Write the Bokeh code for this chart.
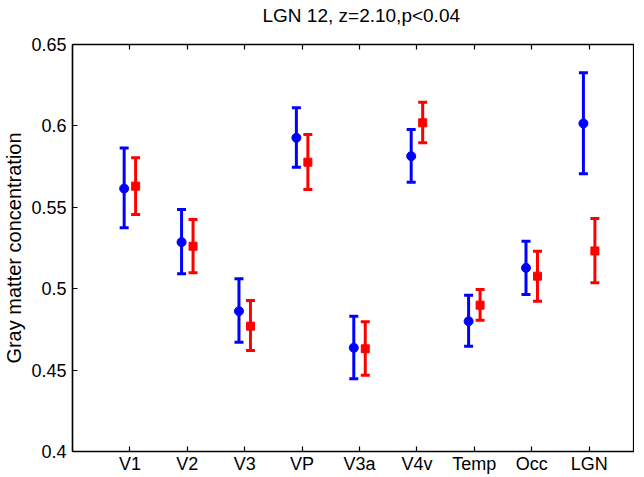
from bokeh.plotting import figure
from bokeh.models import (ColumnDataSource, Whisker, TeeHead, FixedTicker, LinearAxis,
                          CustomLabelingPolicy)
from bokeh.embed import file_html
from bokeh.resources import INLINE

categories = ["V1", "V2", "V3", "VP", "V3a", "V4v", "Temp", "Occ", "LGN"]

blue_mean = [0.5615, 0.5286, 0.4862, 0.5927, 0.4637, 0.5814, 0.4800, 0.5128, 0.6015]
blue_upper = [0.5865, 0.5487, 0.5061, 0.6111, 0.4831, 0.5978, 0.4960, 0.5292, 0.6326]
blue_lower = [0.5374, 0.5092, 0.4671, 0.5746, 0.4447, 0.5654, 0.4647, 0.4964, 0.5706]

red_mean = [0.5630, 0.5261, 0.4770, 0.5777, 0.4631, 0.6019, 0.4899, 0.5077, 0.5232]
red_upper = [0.5804, 0.5425, 0.4927, 0.5947, 0.4797, 0.6146, 0.4995, 0.5230, 0.5431]
red_lower = [0.5456, 0.5098, 0.4620, 0.5609, 0.4469, 0.5896, 0.4806, 0.4923, 0.5036]

ytick_values = [0.4, 0.45, 0.5, 0.55, 0.6, 0.65]
ytick_labels = ["0.4", "0.45", "0.5", "0.55", "0.6", "0.65"]

title_text = "LGN 12, z=2.10,p<0.04"
ylabel_text = "Gray matter concentration"

FONT = "Liberation Sans"
BLUE = "#0000ff"
RED = "#ff0000"

xpos = list(range(1, len(categories) + 1))
xb = [x - 0.1 for x in xpos]
xr = [x + 0.1 for x in xpos]

p = figure(
    frame_width=562, frame_height=407,
    x_range=(0, 9.79), y_range=(0.4, 0.65),
    output_backend="svg", toolbar_location=None,
    min_border_left=66, min_border_right=0, min_border_top=37, min_border_bottom=24,
)
p.title.text = title_text
p.title.text_font = FONT
p.title.text_font_size = "19px"
p.title.text_font_style = "normal"
p.title.text_color = "black"
p.title.align = "left"
p.title.offset = 190
p.title.standoff = 5

p.outline_line_color = "black"
p.outline_line_width = 1.2
p.grid.visible = False
p.background_fill_color = "white"
p.border_fill_color = "white"

# x axis
xa = p.xaxis[0]
xa.ticker = FixedTicker(ticks=xpos)
xa.major_label_overrides = {x: c for x, c in zip(xpos, categories)}
xa.minor_tick_line_color = None
xa.major_tick_in = 5
xa.major_tick_out = 0
xa.major_label_standoff = 2
xa.major_label_text_font = FONT
xa.major_label_text_font_size = "18px"
xa.major_label_text_color = "black"
xa.axis_line_color = "black"
xa.axis_line_width = 1.5
xa.major_tick_line_color = "black"
xa.major_tick_line_width = 1.2

# y axis
ya = p.yaxis[0]
ya.ticker = FixedTicker(ticks=ytick_values)
ya.major_label_overrides = {v: s for v, s in zip(ytick_values, ytick_labels)}
ya.minor_tick_line_color = None
ya.major_tick_in = 5
ya.major_tick_out = 0
ya.major_label_standoff = 6
ya.major_label_text_font = FONT
ya.major_label_text_font_size = "18px"
ya.major_label_text_color = "black"
ya.axis_line_color = "black"
ya.axis_line_width = 1.5
ya.major_tick_line_color = "black"
ya.major_tick_line_width = 1.2
ya.axis_label = ylabel_text
ya.axis_label_text_font = FONT
ya.axis_label_text_font_size = "20px"
ya.axis_label_text_font_style = "normal"
ya.axis_label_text_color = "black"
ya.axis_label_standoff = 3

# top axis (box edge with inward ticks, no labels)
hide_all = CustomLabelingPolicy(code="""
for (const i of indices) { indices.unset(i) }
return indices
""")
top = LinearAxis(ticker=FixedTicker(ticks=xpos), major_tick_in=5, major_tick_out=0,
                 minor_tick_line_color=None, major_label_policy=hide_all,
                 major_label_standoff=0, axis_line_color="black", axis_line_width=1.5,
                 major_tick_line_color="black", major_tick_line_width=1.2,
                 major_label_text_font=FONT, major_label_text_font_size="18px")
p.add_layout(top, "above")

blue_src = ColumnDataSource(dict(x=xb, y=blue_mean, upper=blue_upper, lower=blue_lower))
red_src = ColumnDataSource(dict(x=xr, y=red_mean, upper=red_upper, lower=red_lower))

for src, col in ((blue_src, BLUE), (red_src, RED)):
    w = Whisker(source=src, base="x", upper="upper", lower="lower",
                line_color=col, line_width=3,
                upper_head=TeeHead(size=9, line_color=col, line_width=3),
                lower_head=TeeHead(size=9, line_color=col, line_width=3))
    p.add_layout(w)

p.scatter("x", "y", source=blue_src, marker="circle", size=9, fill_color=BLUE, line_color=BLUE)
p.scatter("x", "y", source=red_src, marker="square", size=8, fill_color=RED, line_color=RED)

open("out.html", "w").write(file_html(p, INLINE))
